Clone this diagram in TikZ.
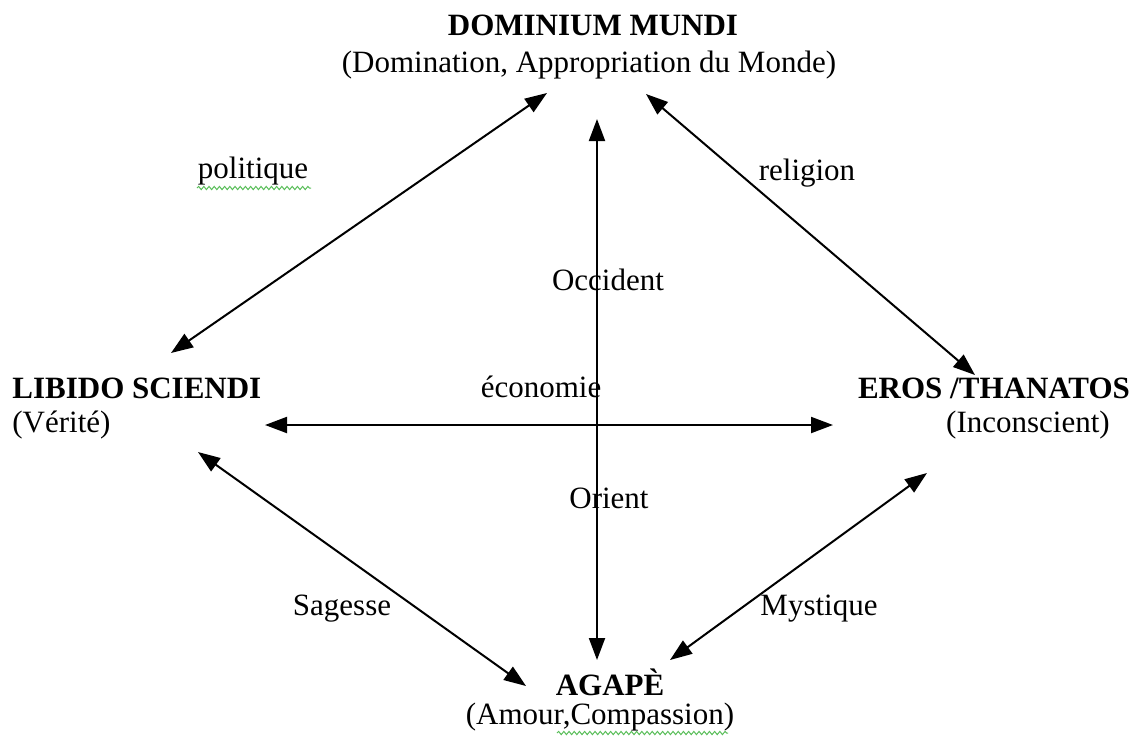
\documentclass[tikz,border=0pt]{standalone}
\usepackage{fontspec}
\setmainfont{Liberation Serif}
\usetikzlibrary{arrows.meta,decorations.pathmorphing}
\definecolor{spell}{RGB}{90,190,90}
\tikzset{
  txt/.style={inner sep=0pt, anchor=base, font=\fontsize{15.5pt}{18pt}\selectfont},
  ttl/.style={txt, font=\fontsize{15.5pt}{18pt}\selectfont\bfseries},
  link/.style={line width=1pt, {Triangle[length=11pt,width=8pt]}-{Triangle[length=11pt,width=8pt]}},
  squiggle/.style={spell, line width=0.5pt, decorate, decoration={snake, segment length=2.6pt, amplitude=0.8pt}}
}
\begin{document}
\begin{tikzpicture}[x=0.5pt,y=-0.5pt]
\useasboundingbox (0,0) rectangle (1141,736);
% titles
\node[ttl] (dom) at (593,35) {DOMINIUM MUNDI};
\node[txt] (domsub) at (589,72) {(Domination, Appropriation du Monde)};
\node[ttl,anchor=base west] (lib) at (12,398) {LIBIDO SCIENDI};
\node[txt,anchor=base west] (libsub) at (12,432) {(Vérité)};
\node[ttl] (eros) at (994,398) {EROS /THANATOS};
\node[txt] (erossub) at (1028,432) {(Inconscient)};
\node[ttl] (aga) at (610,695) {AGAPÈ};
\node[txt] (agasub) at (600,724) {(Amour,Compassion)};
% edge labels
\node[txt] (pol) at (253,178) {politique};
\node[txt] (rel) at (807,180) {religion};
\node[txt] (occ) at (608,290) {Occident};
\node[txt] (eco) at (541,397) {économie};
\node[txt] (ori) at (609,508) {Orient};
\node[txt] (sag) at (342,615) {Sagesse};
\node[txt] (mys) at (819,615) {Mystique};
% arrow end points
\coordinate (pA) at (547,93);
\coordinate (pB) at (171,353);
\coordinate (rA) at (646,94);
\coordinate (rB) at (975,375);
\coordinate (vA) at (597,119);
\coordinate (vB) at (597,660);
\coordinate (hA) at (265,425);
\coordinate (hB) at (833,425);
\coordinate (sA) at (198,452);
\coordinate (sB) at (526,686);
\coordinate (mA) at (927,473);
\coordinate (mB) at (670,660);
% connectors
\draw[link] (pA) -- (pB);
\draw[link] (rA) -- (rB);
\draw[link] (vA) -- (vB);
\draw[link] (hA) -- (hB);
\draw[link] (sA) -- (sB);
\draw[link] (mA) -- (mB);
% spell-check underlines
\coordinate (u1) at (197,188);
\coordinate (u2) at (311,188);
\coordinate (u3) at (557,733);
\coordinate (u4) at (728,733);
\draw[squiggle] (u1) -- (u2);
\draw[squiggle] (u3) -- (u4);
\end{tikzpicture}
\end{document}
